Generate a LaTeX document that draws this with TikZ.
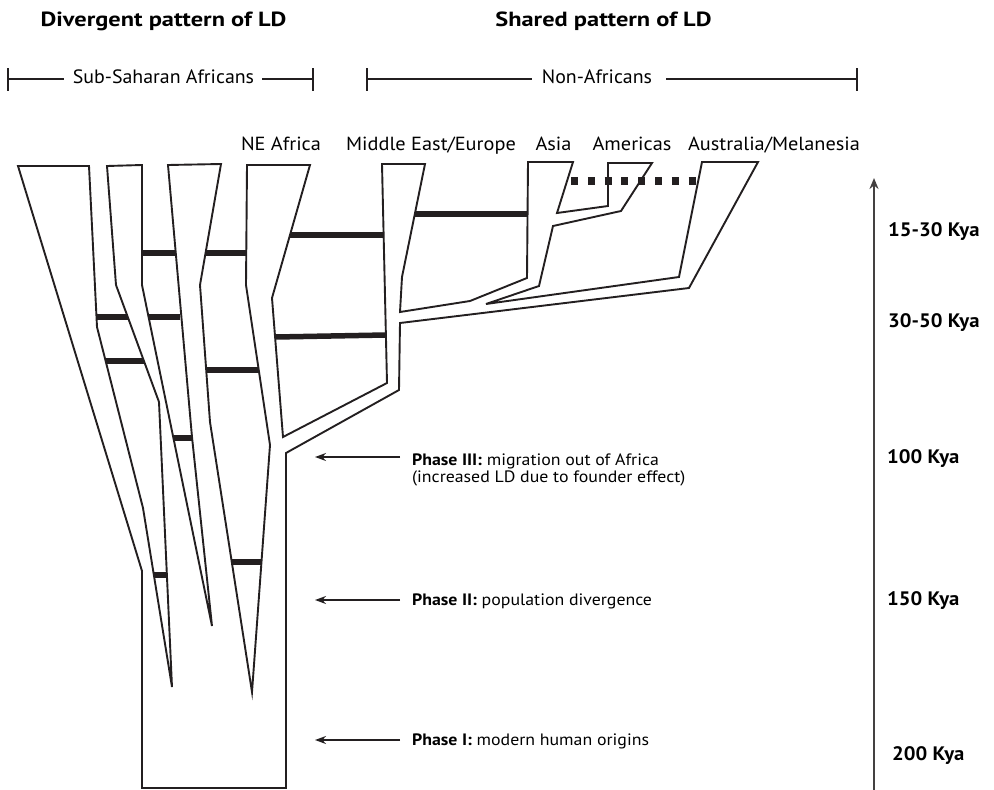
\documentclass[tikz,border=0pt]{standalone}
\usepackage{fontspec}
\setmainfont{PT Sans}
\newfontfamily\lblfont{PT Sans}[FakeStretch=1.07]
\newfontfamily\grpfont{PT Sans}[FakeStretch=1.03]
\newfontfamily\hdfont{PT Sans}[FakeStretch=1.19]
\newfontfamily\phfont{PT Sans}[FakeStretch=1.08]
\newfontfamily\kyfont{PT Sans}[FakeStretch=1.06]
\usetikzlibrary{arrows.meta}
\definecolor{ink}{HTML}{231F20}
\begin{document}
\begin{tikzpicture}[x=1pt,y=-1pt,
  outline/.style={draw=ink, line width=1.9pt, line join=miter},
  ldbar/.style={draw=ink, line width=5.5pt},
  dotbar/.style={draw=ink, line width=8pt, dash pattern=on 7pt off 9.8pt},
  head/.style={font=\hdfont\fontsize{20.5}{24}\selectfont\bfseries, anchor=base, inner sep=0pt},
  grp/.style={font=\grpfont\fontsize{19.3}{23}\selectfont, anchor=base, inner sep=0pt},
  pop/.style={font=\lblfont\fontsize{19}{23}\selectfont, anchor=base, inner sep=0pt},
  kya/.style={font=\kyfont\fontsize{19.5}{23}\selectfont\bfseries, anchor=base west, inner sep=0pt},
  phase/.style={font=\phfont\fontsize{16.5}{19}\selectfont, anchor=base west, inner sep=0pt},
  parrow/.style={draw=ink, line width=1.6pt, -{Stealth[length=11pt,width=8pt]}},
  axisline/.style={draw=ink!85, line width=2.3pt, -{Stealth[length=11pt,width=9pt]}},
  tick/.style={draw=ink, line width=1.3pt}
]
\useasboundingbox (0,0) rectangle (994,790);

% ---- headings
\node[head] (h1) at (163.5,26) {Divergent pattern of LD};
\node[head] (h2) at (603.5,26) {Shared pattern of LD};

% ---- group brackets
\node[grp] (ssa) at (163.5,83.3) {Sub-Saharan Africans};
\node[grp] (naf) at (597,83.3) {Non-Africans};
\coordinate (ssaL) at (8,79); \coordinate (ssaLi) at (64,79);
\coordinate (ssaRi) at (262,79); \coordinate (ssaR) at (313,79);
\coordinate (nafL) at (367,79); \coordinate (nafLi) at (532,79);
\coordinate (nafRi) at (666,79); \coordinate (nafR) at (857,79);
\draw[tick] (ssaL) -- (ssaLi);
\draw[tick] (ssaRi) -- (ssaR);
\draw[tick] (nafL) -- (nafLi);
\draw[tick] (nafRi) -- (nafR);
\draw[tick] ([yshift=-11.5pt]ssaL) -- ([yshift=11.5pt]ssaL);
\draw[tick] ([yshift=-11.5pt]ssaR) -- ([yshift=11.5pt]ssaR);
\draw[tick] ([yshift=-11.5pt]nafL) -- ([yshift=11.5pt]nafL);
\draw[tick] ([yshift=-11.5pt]nafR) -- ([yshift=11.5pt]nafR);

% ---- population labels
\node[pop] (ne) at (281,150) {NE Africa};
\node[pop] (me) at (431,150) {Middle East/Europe};
\node[pop] (as) at (553.5,150) {Asia};
\node[pop] (am) at (632,150) {Americas};
\node[pop] (au) at (774,150) {Australia/Melanesia};

% ---- tree outline
\draw[outline] (142,788) -- (142,571) -- (18,166) -- (89,166) -- (97,327)
  -- (143,508) -- (172,687) -- (159,402) -- (116,285) -- (107,166)
  -- (142,165) -- (142,285) -- (212,626) -- (192,437) -- (168,165)
  -- (221,164) -- (200,285) -- (210,422) -- (252,692) -- (270,445)
  -- (246,285) -- (247,165) -- (310,165) -- (272,298) -- (283,437)
  -- (387,383) -- (382,164) -- (425,164) -- (402,277) -- (400,312)
  -- (470,301) -- (527,278) -- (528,162) -- (573,162) -- (557,213)
  -- (608,206) -- (608,163) -- (652,163) -- (621,211) -- (553,226)
  -- (539,286) -- (486,304) -- (679,277) -- (702,162) -- (758,162)
  -- (689,288) -- (400,323) -- (399,390) -- (286,453) -- (286,788) -- cycle;

% ---- LD bars
\draw[ldbar] (142,253) -- (175,253);
\draw[ldbar] (206,253) -- (247,253);
\draw[ldbar] (97,317) -- (128,317);
\draw[ldbar] (148.5,317) -- (180,317);
\draw[ldbar] (106,361) -- (144,361);
\draw[ldbar] (206,370) -- (259,370);
\draw[ldbar] (173,438) -- (192.5,438);
\draw[ldbar] (154,575) -- (167,575);
\draw[ldbar] (232,562) -- (261.5,562);
\draw[ldbar] (290,235) -- (383,235);
\draw[ldbar] (275.5,337) -- (386,335);
\draw[ldbar] (415,214) -- (528,214);
\draw[dotbar] (571,181) -- (698,181);

% ---- phase arrows and texts
\coordinate (p3s) at (400,457); \coordinate (p3e) at (315,457);
\coordinate (p2s) at (400,600); \coordinate (p2e) at (315,600);
\coordinate (p1s) at (400,740); \coordinate (p1e) at (315,740);
\draw[parrow] (p3s) -- (p3e);
\draw[parrow] (p2s) -- (p2e);
\draw[parrow] (p1s) -- (p1e);
\node[phase] (ph3a) at (412,465) {\textbf{Phase III:} migration out of Africa};
\node[phase] (ph3b) at (412,482) {(increased LD due to founder effect)};
\node[phase] (ph2) at (412,605) {\textbf{Phase II:} population divergence};
\node[phase] (ph1) at (412,745) {\textbf{Phase I:} modern human origins};

% ---- time axis
\coordinate (axb) at (874,790); \coordinate (axt) at (874,178);
\draw[axisline] (axb) -- (axt);
\node[kya] (k1) at (888,236) {15-30 Kya};
\node[kya] (k2) at (888,327.7) {30-50 Kya};
\node[kya] (k3) at (887,463) {100 Kya};
\node[kya] (k4) at (887,605) {150 Kya};
\node[kya] (k5) at (892,760) {200 Kya};
\end{tikzpicture}
\end{document}
